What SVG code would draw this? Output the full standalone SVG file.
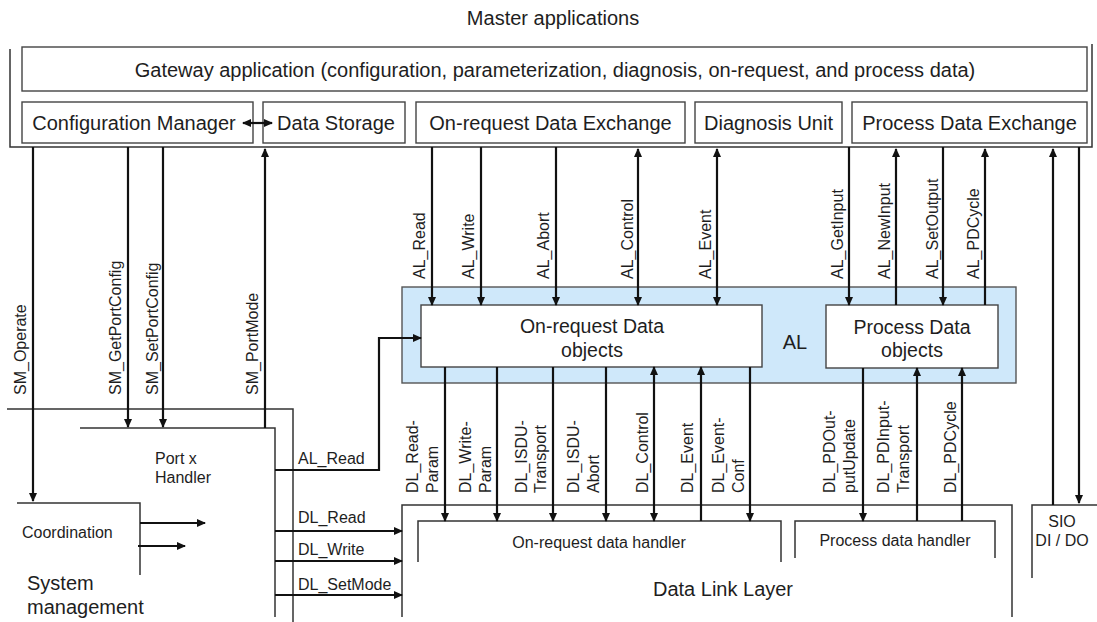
<svg xmlns="http://www.w3.org/2000/svg" width="1097" height="622" viewBox="0 0 1097 622">
  <defs>
    <marker id="arrow" markerUnits="userSpaceOnUse" markerWidth="9" markerHeight="8" refX="8" refY="4" orient="auto-start-reverse">
      <path d="M0,0 L9,4 L0,8 z" fill="#111"/>
    </marker>
    <style>
      text { font-family: "Liberation Sans", Arial, sans-serif; fill: #1e1e1e; }
      .t20 { font-size: 20px; }
      .t19 { font-size: 19.5px; }
      .t16 { font-size: 16px; }
      .mid { text-anchor: middle; }
      .box { fill: #fff; stroke: #444; stroke-width: 1.4; }
      .frame { fill: none; stroke: #333; stroke-width: 1.5; }
      .al { fill: #cfe8fa; stroke: #555; stroke-width: 1.4; }
      .conn line, .conn polyline { fill: none; stroke: #111; stroke-width: 2.2; }
      .fwd { marker-end: url(#arrow); }
      .both { marker-start: url(#arrow); marker-end: url(#arrow); }
    </style>
  </defs>
  <rect width="1097" height="622" fill="#fff"/>

  <!-- Master applications block -->
  <g id="master">
    <text class="t20 mid" x="553" y="25">Master applications</text>
    <polyline class="frame" points="10,49 10,147 1092,147 1092,44"/>
  </g>
  <g id="gateway">
    <rect class="box" x="22" y="47" width="1065" height="44"/>
    <text class="t20 mid" x="555" y="77">Gateway application (configuration, parameterization, diagnosis, on-request, and process data)</text>
  </g>
  <g id="config-manager">
    <rect class="box" x="22" y="102" width="231" height="41"/>
    <text class="t20 mid" x="134" y="130">Configuration Manager</text>
  </g>
  <g id="data-storage">
    <rect class="box" x="263" y="102" width="142" height="41"/>
    <text class="t20 mid" x="336" y="130">Data Storage</text>
  </g>
  <g id="ondemand-exchange">
    <rect class="box" x="416" y="102" width="269" height="41"/>
    <text class="t20 mid" x="550.5" y="130">On-request Data Exchange</text>
  </g>
  <g id="diagnosis-unit">
    <rect class="box" x="695" y="102" width="147" height="41"/>
    <text class="t20 mid" x="768.5" y="130">Diagnosis Unit</text>
  </g>
  <g id="process-exchange">
    <rect class="box" x="852" y="102" width="235" height="41"/>
    <text class="t20 mid" x="969.5" y="130">Process Data Exchange</text>
  </g>

  <!-- Application layer -->
  <g id="al">
    <rect class="al" x="402" y="287" width="614" height="96"/>
    <text class="t20 mid" x="795" y="349">AL</text>
  </g>
  <g id="ondemand-objects">
    <rect class="box" x="421" y="305" width="341" height="62"/>
    <text class="t19 mid" x="592" y="333">On-request Data</text>
    <text class="t19 mid" x="592" y="357">objects</text>
  </g>
  <g id="process-objects">
    <rect class="box" x="826" y="305" width="172" height="63"/>
    <text class="t19 mid" x="912" y="334">Process Data</text>
    <text class="t19 mid" x="912" y="357">objects</text>
  </g>

  <!-- System management -->
  <g id="system-management">
    <polyline class="frame" points="7,409 293,409 293,622"/>
    <text class="t20" x="27" y="590">System</text>
    <text class="t20" x="27" y="614">management</text>
  </g>
  <g id="port-handler">
    <polyline class="frame" points="80,428 275,428 275,617"/>
    <text class="t16" x="155" y="464">Port x</text>
    <text class="t16" x="155" y="483">Handler</text>
  </g>
  <g id="coordination">
    <polyline class="frame" points="17,503 140,503 140,575"/>
    <text class="t16" x="22" y="538">Coordination</text>
  </g>

  <!-- Data link layer -->
  <g id="data-link-layer">
    <polyline class="frame" points="402,617 402,505 1012,505 1012,617"/>
    <text class="t20 mid" x="723" y="596">Data Link Layer</text>
  </g>
  <g id="ondemand-handler">
    <polyline class="frame" points="418,562 418,521 781,521 781,562"/>
    <text class="t16 mid" x="599" y="548">On-request data handler</text>
  </g>
  <g id="process-handler">
    <polyline class="frame" points="795,558 795,521 995,521 995,558"/>
    <text class="t16 mid" x="895" y="546">Process data handler</text>
  </g>
  <g id="sio">
    <polyline class="frame" points="1032,578 1032,505 1097,505"/>
    <text class="t16 mid" x="1062" y="527">SIO</text>
    <text class="t16 mid" x="1062" y="546">DI / DO</text>
  </g>

  <!-- Connectors -->
  <g id="connectors" class="conn">
    <line class="both" x1="243" y1="123" x2="272" y2="123"/>

    <line class="fwd" x1="33" y1="147" x2="33" y2="501"/>
    <line class="fwd" x1="128" y1="147" x2="128" y2="427"/>
    <line class="fwd" x1="163" y1="147" x2="163" y2="427"/>
    <line class="fwd" x1="265" y1="428" x2="265" y2="149"/>

    <line class="fwd" x1="432" y1="147" x2="432" y2="305"/>
    <line class="fwd" x1="481" y1="147" x2="481" y2="305"/>
    <line class="fwd" x1="556" y1="147" x2="556" y2="305"/>
    <line class="both" x1="638" y1="149" x2="638" y2="305"/>
    <line class="both" x1="717" y1="149" x2="717" y2="305"/>
    <line class="fwd" x1="849" y1="147" x2="849" y2="305"/>
    <line class="fwd" x1="896" y1="305" x2="896" y2="149"/>
    <line class="fwd" x1="943" y1="147" x2="943" y2="305"/>
    <line class="fwd" x1="985" y1="305" x2="985" y2="149"/>

    <line class="fwd" x1="1053" y1="505" x2="1053" y2="149"/>
    <line class="fwd" x1="1079" y1="147" x2="1079" y2="503"/>

    <line class="fwd" x1="445" y1="367" x2="445" y2="521"/>
    <line class="fwd" x1="497" y1="367" x2="497" y2="521"/>
    <line class="fwd" x1="553" y1="367" x2="553" y2="521"/>
    <line class="fwd" x1="606" y1="367" x2="606" y2="521"/>
    <line class="both" x1="654" y1="367" x2="654" y2="521"/>
    <line class="fwd" x1="701" y1="521" x2="701" y2="367"/>
    <line class="fwd" x1="750" y1="367" x2="750" y2="521"/>
    <line class="fwd" x1="863" y1="368" x2="863" y2="521"/>
    <line class="fwd" x1="917" y1="521" x2="917" y2="368"/>
    <line class="fwd" x1="962" y1="521" x2="962" y2="368"/>

    <polyline class="fwd" points="275,470 379,470 379,338 421,338"/>
    <line class="fwd" x1="275" y1="531" x2="402" y2="531"/>
    <line class="fwd" x1="275" y1="561" x2="402" y2="561"/>
    <line class="fwd" x1="275" y1="595" x2="402" y2="595"/>

    <line class="fwd" x1="140" y1="523" x2="205" y2="523"/>
    <line class="fwd" x1="138" y1="546" x2="185" y2="546"/>
  </g>

  <!-- Service labels -->
  <g id="labels" class="t16">
    <text class="t16" transform="translate(26,395) rotate(-90)">SM_Operate</text>
    <text class="t16" transform="translate(121,395) rotate(-90)">SM_GetPortConfig</text>
    <text class="t16" transform="translate(158,395) rotate(-90)">SM_SetPortConfig</text>
    <text class="t16" transform="translate(258,395) rotate(-90)">SM_PortMode</text>

    <text class="t16" transform="translate(425,279) rotate(-90)">AL_Read</text>
    <text class="t16" transform="translate(474,279) rotate(-90)">AL_Write</text>
    <text class="t16" transform="translate(549,279) rotate(-90)">AL_Abort</text>
    <text class="t16" transform="translate(633,279) rotate(-90)">AL_Control</text>
    <text class="t16" transform="translate(711,279) rotate(-90)">AL_Event</text>
    <text class="t16" transform="translate(843,279) rotate(-90)">AL_GetInput</text>
    <text class="t16" transform="translate(890,279) rotate(-90)">AL_NewInput</text>
    <text class="t16" transform="translate(938,279) rotate(-90)">AL_SetOutput</text>
    <text class="t16" transform="translate(979,279) rotate(-90)">AL_PDCycle</text>

    <text class="t16" transform="translate(418,493) rotate(-90)"><tspan x="0" y="0">DL_Read-</tspan><tspan x="0" y="20">Param</tspan></text>
    <text class="t16" transform="translate(471,493) rotate(-90)"><tspan x="0" y="0">DL_Write-</tspan><tspan x="0" y="20">Param</tspan></text>
    <text class="t16" transform="translate(527,493) rotate(-90)"><tspan x="0" y="0">DL_ISDU-</tspan><tspan x="0" y="19">Transport</tspan></text>
    <text class="t16" transform="translate(579,493) rotate(-90)"><tspan x="0" y="0">DL_ISDU-</tspan><tspan x="0" y="20">Abort</tspan></text>
    <text class="t16" transform="translate(648,493) rotate(-90)">DL_Control</text>
    <text class="t16" transform="translate(693,493) rotate(-90)">DL_Event</text>
    <text class="t16" transform="translate(724,493) rotate(-90)"><tspan x="0" y="0">DL_Event-</tspan><tspan x="0" y="20">Conf</tspan></text>
    <text class="t16" transform="translate(835,493) rotate(-90)"><tspan x="0" y="0">DL_PDOut-</tspan><tspan x="0" y="20">putUpdate</tspan></text>
    <text class="t16" transform="translate(889,493) rotate(-90)"><tspan x="0" y="0">DL_PDInput-</tspan><tspan x="0" y="20">Transport</tspan></text>
    <text class="t16" transform="translate(956,493) rotate(-90)">DL_PDCycle</text>

    <text class="t16" x="298" y="464">AL_Read</text>
    <text class="t16" x="298" y="523">DL_Read</text>
    <text class="t16" x="298" y="555">DL_Write</text>
    <text class="t16" x="298" y="590">DL_SetMode</text>
  </g>
</svg>
